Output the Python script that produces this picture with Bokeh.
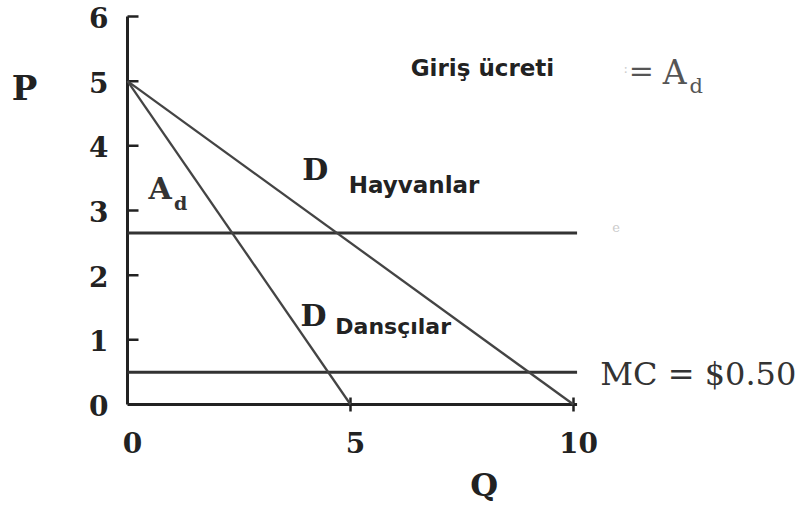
from bokeh.plotting import figure
from bokeh.models import Range1d
from bokeh.core.properties import value
from bokeh.embed import file_html
from bokeh.resources import INLINE

# Axis ticks and labels
p_ticks = [0, 1, 2, 3, 4, 5, 6]
p_tick_labels = ["0", "1", "2", "3", "4", "5", "6"]
q_ticks = [0, 5, 10]
q_tick_labels = ["0", "5", "10"]
q_marked = [5, 10]

# Demand curves (Q, P)
dancers_q = [0, 5]
dancers_p = [5, 0]
animals_q = [0, 10]
animals_p = [5, 0]

# Horizontal price levels
entry_price = 2.65
mc = 0.5
q_max = 10.08

PX_X = 44.6   # pixels per unit of Q
PX_Y = 64.67  # pixels per unit of P

p = figure(width=808, height=508, output_backend="svg", toolbar_location=None,
           x_range=Range1d(-127 / PX_X, 681 / PX_X),
           y_range=Range1d(-104 / PX_Y, 404 / PX_Y),
           min_border=0, outline_line_color=None)
p.axis.visible = False
p.grid.visible = False
p.background_fill_color = "white"
p.border_fill_color = "white"

ink = "#222222"
serif = value("DejaVu Serif")
sans = value("DejaVu Sans")

# axes
p.segment(x0=[0], y0=[0], x1=[0], y1=[max(p_ticks)], line_color=ink, line_width=3)
p.segment(x0=[0], y0=[0], x1=[q_max], y1=[0], line_color=ink, line_width=3)
tick_len_q = 11 / PX_X
p.segment(x0=[0] * (len(p_ticks) - 1), y0=p_ticks[1:], x1=[tick_len_q] * (len(p_ticks) - 1),
          y1=p_ticks[1:], line_color=ink, line_width=2.5)
tick_len_p = 7 / PX_Y
p.segment(x0=q_marked, y0=[-tick_len_p] * len(q_marked), x1=q_marked,
          y1=[tick_len_p] * len(q_marked), line_color=ink, line_width=2.5)

# tick labels
p.text(x=[0] * len(p_ticks), y=p_ticks, text=p_tick_labels, text_font=serif,
       text_font_style="bold", text_font_size="28px", text_align="right",
       text_baseline="middle", x_offset=-19, y_offset=1, text_color=ink)
p.text(x=q_ticks, y=[0] * len(q_ticks), text=q_tick_labels, text_font=serif,
       text_font_style="bold", text_font_size="28px", text_align="center",
       text_baseline="middle", x_offset=5, y_offset=38, text_color=ink)

# price levels
p.segment(x0=[0, 0], y0=[entry_price, mc], x1=[q_max, q_max], y1=[entry_price, mc],
          line_color="#333333", line_width=3)

# demand curves
p.line(dancers_q, dancers_p, line_color="#444444", line_width=2.3)
p.line(animals_q, animals_p, line_color="#444444", line_width=2.3)

# axis titles
p.text(x=[-2.31], y=[4.89], text=["P"], text_font=serif, text_font_style="bold",
       text_font_size="34px", text_align="center", text_baseline="middle", text_color=ink)
p.text(x=[8.0], y=[-1.25], text=["Q"], text_font=serif, text_font_style="bold",
       text_font_size="32px", text_align="center", text_baseline="middle", text_color=ink)

# curve labels
p.text(x=[0.47], y=[3.34], text=["A"], text_font=serif, text_font_style="bold",
       text_font_size="30px", text_baseline="middle", text_color="#333333")
p.text(x=[1.04], y=[3.12], text=["d"], text_font=serif, text_font_style="bold",
       text_font_size="19px", text_baseline="middle", text_color="#333333")
p.text(x=[3.92, 3.88], y=[3.63, 1.38], text=["D", "D"], text_font=serif,
       text_font_style="bold", text_font_size="30px", text_baseline="middle",
       text_color=ink)
p.text(x=[4.96], y=[3.40], text=["Hayvanlar"], text_font=sans,
       text_font_style="bold", text_font_size="23px", text_baseline="middle",
       text_color=ink)
p.text(x=[4.66], y=[1.21], text=["Dansçılar"], text_font=sans,
       text_font_style="bold", text_font_size="22px", text_baseline="middle",
       text_color=ink)

# entry fee note
p.text(x=[6.35], y=[5.196], text=["Giriş ücreti"], text_font=sans, text_font_style="bold",
       text_font_size="23px", text_baseline="middle", text_color=ink)
p.text(x=[11.52], y=[5.16], text=["="], text_font=serif, text_font_size="30px",
       text_align="center", text_baseline="middle", text_color="#555555")
p.text(x=[12.0], y=[5.14], text=["A"], text_font=serif, text_font_size="33px",
       text_baseline="middle", text_color="#555555")
p.text(x=[12.6], y=[4.93], text=["d"], text_font=serif, text_font_size="21px",
       text_baseline="middle", text_color="#555555")
p.text(x=[11.12, 10.87], y=[5.2, 2.75], text=[":", "e"], text_font=serif,
       text_font_size="13px", text_baseline="middle", text_color="#cccccc")

# marginal cost label
p.text(x=[10.6], y=[0.464], text=["MC = $0.50"], text_font=serif, text_font_size="32px",
       text_baseline="middle", text_color="#333333")

open("out.html", "w").write(file_html(p, INLINE))
